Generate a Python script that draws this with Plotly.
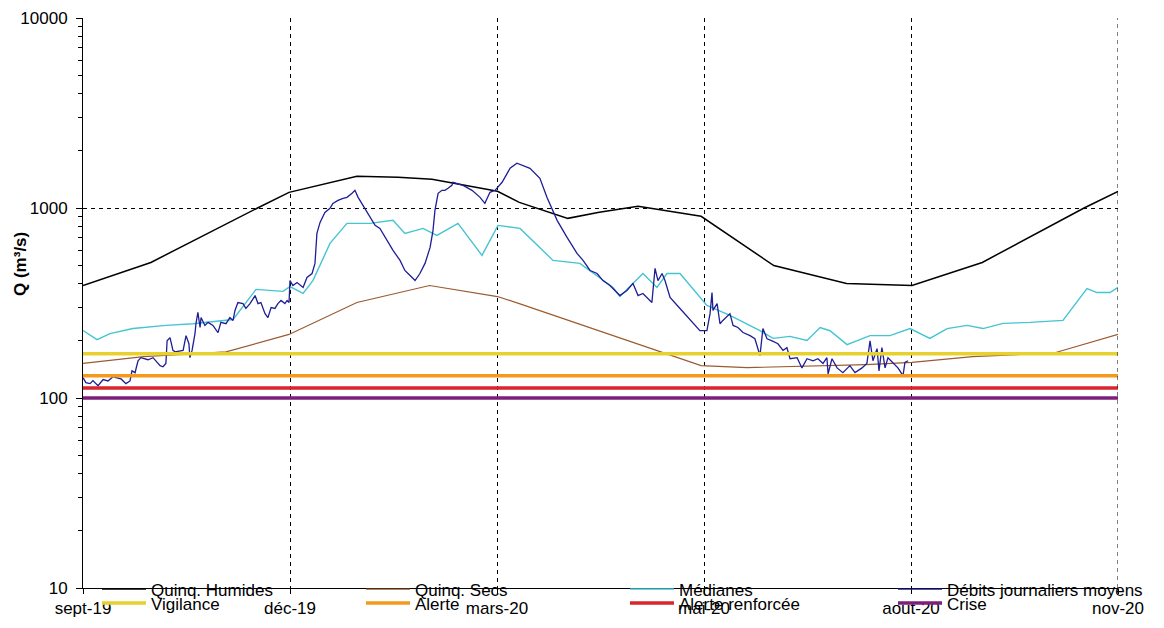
import plotly.graph_objects as go

# Axe des abscisses : jours depuis le début de la chronique
tick_jours = [0, 85.4, 170.8, 256.2, 341.6, 427]
tick_labels = ["sept-19", "déc-19", "mars-20", "mai-20", "août-20", "nov-20"]

jours_humides = [0, 28, 72, 85, 113, 130, 144, 171, 180, 200, 213, 229, 255, 285, 315, 342, 371, 413, 427]
quinq_humides = [391, 517, 1000, 1209, 1469, 1451, 1417, 1224, 1071, 882, 949, 1020, 904, 498, 401, 391, 517, 1000, 1224]

jours_secs = [0, 25, 59, 85, 113, 143, 171, 180, 255, 274, 323, 342, 367, 401, 427]
quinq_secs = [152, 165, 175, 216, 318, 391, 342, 314, 148, 144.5, 150, 154, 165, 173, 216]

jours_medianes = [0, 5.8, 11.1, 20.6, 34.2, 45.4, 61.9, 71.4, 82.5, 85.4,
                  90.8, 94.9, 101.9, 108.9, 118.4, 127.9, 132.8, 140.3, 146, 154.7,
                  164.6, 171.2, 180.3, 193.9, 205, 218.7, 221.5, 231, 236.8, 240.9,
                  246.3, 257.4, 266.9, 279.3, 284.7, 291.7, 298.7, 304.1, 308.2, 315.2,
                  324.7, 332.9, 341.2, 349.4, 356.5, 364.7, 371.3, 379.6, 390.7, 404.3,
                  414.2, 418.3, 423.7, 427]
medianes = [226.5, 203, 218, 232, 241, 246, 259, 373, 364, 386,
            355, 416, 651, 830, 830, 861, 735, 781, 718, 830,
            563, 810, 781, 530, 511, 382, 342, 452, 382, 452,
            452, 307, 272, 226, 206, 211, 201, 235, 226, 191,
            213, 213, 232, 206, 232, 241, 232, 247, 250, 256,
            377, 359, 359, 382]

jours_debits = [0, 1.2, 2.9, 4.1, 6.2, 8.3, 10.3, 12.4, 13.6, 15.7,
                17.7, 19.4, 20.2, 21.5, 21.9, 22.7, 23.9, 25.6, 26.8, 28.9,
                30.1, 31.8, 33, 34.2, 34.7, 35.9, 37.1, 38, 41.3, 42.1,
                42.5, 43.7, 44.1, 45, 46.2, 46.6, 47.4, 48.3, 48.7, 50.3,
                51.6, 53.6, 55.7, 56.9, 59, 60.6, 61.9, 62.7, 63.9, 66,
                67.2, 68.9, 71, 72.2, 73.4, 75.1, 76.3, 77.6, 79.2, 80.4,
                81.7, 83.3, 84.2, 85, 85.4, 86.6, 88.3, 90.8, 92.4, 94.5,
                95.7, 96.5, 97.8, 99.8, 101.9, 103.1, 105.2, 107.3, 108.9, 111,
                112.2, 113.5, 115.5, 118.4, 120.5, 122.5, 125.4, 127.9, 130.8, 132.8,
                134.1, 136.1, 137, 139, 141.1, 143.2, 144.4, 145.2, 146.5, 148.1,
                149.3, 150.6, 152.2, 152.6, 154.3, 156.8, 160.5, 163.8, 165.8, 167.9,
                170, 171.2, 172.9, 176.2, 179, 184.4, 188.5, 191.4, 195.6, 199.7,
                203.8, 206.3, 209.2, 212.1, 214.5, 217.4, 221.5, 224.4, 226.9, 229,
                231, 234.7, 236, 237.2, 238.9, 240.1, 242.2, 246.3, 251.7, 254.5,
                257.4, 258.7, 259.5, 259.9, 261.6, 262.8, 264, 266.9, 268.2, 270.2,
                272.3, 275.2, 277.2, 279.3, 280.5, 282.2, 284.3, 286.7, 288.8, 290.4,
                291.7, 294.6, 296.6, 298.7, 301.2, 303.2, 305.3, 306.9, 307.4, 309,
                311.1, 313.5, 316.4, 318.5, 321.4, 323.4, 324.7, 325.9, 327.6, 328.4,
                329.6, 330.9, 332.1, 334.2, 336.2, 338.3, 339.1, 340.4]
debits = [128, 120.5, 119, 123.4, 116, 125, 123, 129.5, 128, 126,
          119, 123, 139, 136, 143, 157, 163, 161, 159, 163,
          157, 148, 146, 152, 200, 208, 178, 175, 178, 200,
          213, 193, 163, 178, 218, 246, 282, 235, 265, 241,
          250, 241, 221, 250, 246, 265, 256, 289, 318, 314,
          296, 314, 346, 314, 318, 278, 265, 299, 296, 314,
          326, 314, 326, 318, 415, 391, 405, 382, 431, 452,
          511, 735, 840, 948, 996, 1058, 1097, 1124, 1138, 1195,
          1239, 1138, 1032, 893, 810, 781, 675, 598, 530, 469,
          452, 426, 415, 452, 511, 620, 762, 972, 1195, 1239,
          1239, 1269, 1316, 1366, 1349, 1316, 1239, 1138, 1058, 1209,
          1239, 1285, 1366, 1618, 1720, 1618, 1433, 1138, 861, 700,
          577, 530, 469, 452, 415, 391, 346, 368, 401, 346,
          355, 318, 481, 415, 452, 415, 338, 296, 246, 226,
          226, 278, 359, 289, 314, 246, 256, 278, 241, 235,
          221, 213, 205, 167, 232, 205, 200, 193, 178, 184,
          161, 163, 144, 161, 157, 161, 152, 163, 134, 161,
          144, 136, 148, 136, 144, 152, 200, 157, 182, 139,
          184, 144, 163, 152, 144, 131, 154, 157]

seuils_noms = ["Vigilance", "Alerte", "Alerte renforcée", "Crise"]
seuils_valeurs = [171, 131, 113, 100]
seuils_couleurs = ["#E6D12E", "#F39A1C", "#D8262A", "#7D1F7A"]

FONT = "Liberation Sans, Arial, sans-serif"

fig = go.Figure()

courbes = [
    ("Quinq. Humides", jours_humides, quinq_humides, "#000000", 1.5),
    ("Quinq. Secs", jours_secs, quinq_secs, "#9A5B2F", 1.2),
    ("Médianes", jours_medianes, medianes, "#45C4D2", 1.4),
    ("Débits journaliers moyens", jours_debits, debits, "#1E1E96", 1.3),
]
legendes = ["legend"] + ["legend%d" % k for k in range(2, 9)]

for i, (nom, xs, ys, col, w) in enumerate(courbes):
    fig.add_trace(go.Scatter(x=xs, y=ys, mode="lines", name=nom,
                             line=dict(color=col, width=w),
                             legend=legendes[i]))

for i, (nom, v, col) in enumerate(zip(seuils_noms, seuils_valeurs, seuils_couleurs)):
    fig.add_trace(go.Scatter(x=[tick_jours[0], tick_jours[-1]], y=[v, v], mode="lines",
                             name=nom, line=dict(color=col, width=3.5),
                             legend=legendes[4 + i]))

minor_vals = [m * 10 ** e for e in range(1, 4) for m in range(2, 10)]

# La page ajoute une marge de 8 px autour de la figure
OFF = 8
W, H = 1164, 628
L, T = 83 - OFF, 18 - OFF
pw, ph = 1035, 570
R = W - L - pw
B = H - T - ph
plot_bottom = T + ph  # en px de figure

ITEMW = 44
col_text_px = [151, 415, 679, 947]     # début du texte des entrées (px de page)
row_center_px = [589, 603]             # centre des lignes de légende (px de page)

layout_leg = {}
for r in range(2):
    for c in range(4):
        name = legendes[r * 4 + c]
        top_fig = row_center_px[r] - OFF - 17.5
        origin = col_text_px[c] - (ITEMW + 10)
        layout_leg[name] = dict(
            x=(origin - 83) / pw, xanchor="left",
            y=(plot_bottom - top_fig) / ph, yanchor="top",
            orientation="v", bgcolor="rgba(0,0,0,0)", borderwidth=0,
            itemwidth=ITEMW,
            font=dict(family=FONT, size=17, color="black"),
        )

fig.add_shape(type="line", xref="x", yref="paper",
              x0=tick_jours[-1], x1=tick_jours[-1], y0=0, y1=1,
              line=dict(color="black", width=1, dash="4px,4px"), layer="above")

fig.update_layout(
    width=W, height=H,
    margin=dict(l=L, r=R, t=T, b=B, autoexpand=False),
    paper_bgcolor="white", plot_bgcolor="white",
    font=dict(family=FONT, size=17, color="black"),
    showlegend=True,
    xaxis=dict(range=[tick_jours[0], tick_jours[-1]], tickmode="array",
               tickvals=tick_jours, ticktext=tick_labels,
               showline=True, linecolor="black", linewidth=1,
               ticks="outside", ticklen=5, tickcolor="black",
               showgrid=True, gridcolor="black", gridwidth=1, griddash="4px,4px",
               zeroline=False, tickfont=dict(family=FONT, size=17, color="black")),
    yaxis=dict(type="log", range=[1, 4], tickmode="array",
               tickvals=[10, 100, 1000, 10000], ticktext=["10", "100", "1000", "10000"],
               showline=True, linecolor="black", linewidth=1,
               ticks="outside", ticklen=6, tickcolor="black", ticklabelstandoff=5,
               showgrid=True, gridcolor="black", gridwidth=1, griddash="4px,4px",
               zeroline=False,
               minor=dict(tickmode="array", tickvals=minor_vals, ticks="outside",
                          ticklen=4, tickcolor="black", showgrid=False),
               tickfont=dict(family=FONT, size=17, color="black")),
    annotations=[dict(text="<b>Q (m³/s)</b>", textangle=-90, showarrow=False,
                      xref="paper", yref="paper",
                      x=(20 - 83) / pw, y=(plot_bottom - (264 - OFF)) / ph,
                      xanchor="center", yanchor="middle",
                      font=dict(family=FONT, size=17, color="black"))],
    **layout_leg,
)

fig.write_html("out.html")
